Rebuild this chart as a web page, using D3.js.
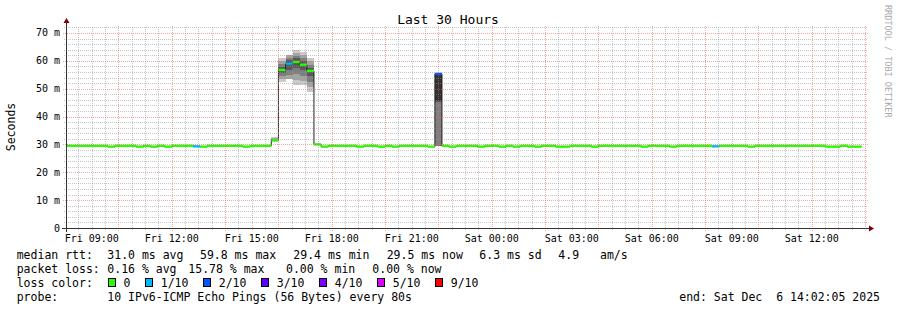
<!DOCTYPE html>
<html>
<head>
<meta charset="utf-8">
<script src="https://cdn.jsdelivr.net/npm/d3@7"></script>
<style>
  body { margin: 0; background: #fff; }
  svg { display: block; }
  text { font-family: 'DejaVu Sans Mono', monospace; }
</style>
</head>
<body>
<div id="chart"></div>
<script>
const width = 897
const height = 310
const plot = { left: 66, right: 866, top: 26, bottom: 228 }

// 30 hour window, data consolidated in 16 minute steps (12 x 80s)
const timeStart = new Date(Date.UTC(2025, 11, 5, 8, 2, 5))
const timeEnd = new Date(Date.UTC(2025, 11, 6, 14, 2, 5))
const stepStart = Date.UTC(2025, 11, 5, 8, 0, 0)
const stepMs = 960 * 1000

// median rtt per step (ms)
const median = [
  29.5, 29.5, 29.5, 29.5, 29.5, 29.5, 29.2, 29.5, 29.5, 29.5, 29.2, 29.5, 29.2, 29.5, 29.2, 29.5,
  29.5, 29.5, 29.3, 29.2, 29.5, 29.5, 29.5, 29.5, 29.5, 29.2, 29.5, 29.5, 29.5, 31.5, 56.7, 59.0,
  59.6, 58.6, 56.4, 30.0, 29.2, 29.5, 29.5, 29.5, 29.5, 29.2, 29.5, 29.5, 29.2, 29.5, 29.2, 29.5,
  29.5, 29.5, 29.5, 29.2, 55.3, 29.5, 29.2, 29.5, 29.5, 29.5, 29.2, 29.5, 29.5, 29.2, 29.5, 29.2,
  29.5, 29.5, 29.2, 29.5, 29.5, 29.2, 29.2, 29.5, 29.5, 29.5, 29.2, 29.5, 29.5, 29.5, 29.5, 29.5,
  29.5, 29.2, 29.5, 29.5, 29.5, 29.2, 29.5, 29.5, 29.5, 29.5, 29.5, 29.3, 29.5, 29.5, 29.5, 29.5,
  29.2, 29.5, 29.5, 29.5, 29.5, 29.5, 29.5, 29.5, 29.5, 29.5, 29.5, 29.2, 29.2, 29.5, 29.2, 29.2
]

// lost pings out of 10 per step
const loss = [
  0, 0, 0, 0, 0, 0, 0, 0, 0, 0, 0, 0, 0, 0, 0, 0,
  0, 0, 1, 0, 0, 0, 0, 0, 0, 0, 0, 0, 0, 0, 0, 1,
  0, 0, 0, 0, 0, 0, 0, 0, 0, 0, 0, 0, 0, 0, 0, 0,
  0, 0, 0, 0, 2, 0, 0, 0, 0, 0, 0, 0, 0, 0, 0, 0,
  0, 0, 0, 0, 0, 0, 0, 0, 0, 0, 0, 0, 0, 0, 0, 0,
  0, 0, 0, 0, 0, 0, 0, 0, 0, 0, 0, 1, 0, 0, 0, 0,
  0, 0, 0, 0, 0, 0, 0, 0, 0, 0, 0, 0, 0, 0, 0, 0
]

// sorted single pings (ms) for the steps where smoke is visible, null = lost
const smokeSteps = [29, 30, 31, 32, 33, 34, 52]
const smokePings = [
  [31.0, 31.1, 31.2, 31.3, 31.4, 31.6, 31.8, 32.0, 32.3, 32.8],
  [52.5, 53.6, 54.6, 55.6, 56.4, 57.0, 57.8, 58.8, 59.9, 61.0],
  [51.9, 53.4, 55.0, 56.8, 58.4, 59.6, 60.3, 61.1, 62.1, null],
  [51.3, 53.0, 55.2, 57.6, 59.2, 60.0, 60.9, 61.9, 62.9, 63.9],
  [51.3, 52.8, 54.6, 56.6, 58.2, 59.0, 59.9, 61.0, 62.2, 63.3],
  [48.9, 50.5, 52.4, 54.4, 56.0, 56.8, 57.6, 58.6, 59.8, 60.9],
  [29.3, 29.4, 29.5, 45.2, 45.5, 55.0, 55.4, 55.8, null, null]
]

const lossLabels = ['0', '1/10', '2/10', '3/10', '4/10', '5/10', '9/10']
const lossColors = ['#26ff00', '#00b8ff', '#0059ff', '#5e00ff', '#7e00ff', '#dd00ff', '#ff0000']

const yTicks = [0, 10, 20, 30, 40, 50, 60, 70]

const legendRtt = ['median rtt:', '31.0 ms avg', '59.8 ms max', '29.4 ms min', '29.5 ms now', '6.3 ms sd', '4.9', 'am/s']
const legendLoss = ['packet loss:', '0.16 % avg', '15.78 % max', '0.00 % min', '0.00 % now']
const probeText = '10 IPv6-ICMP Echo Pings (56 Bytes) every 80s'
const endText = 'end: Sat Dec  6 14:02:05 2025'

const svg = d3
  .select('#chart')
  .append('svg')
  .attr('width', width)
  .attr('height', height)

svg.append('rect').attr('width', width).attr('height', height).attr('fill', '#fff')

const xPositionScale = d3.scaleUtc().domain([timeStart, timeEnd]).range([plot.left, plot.right])
const yPositionScale = d3.scaleLinear().domain([0, 72.5]).range([plot.bottom, plot.top])

const stepX = i => xPositionScale(new Date(stepStart + i * stepMs))

svg
  .append('clipPath')
  .attr('id', 'plot-clip')
  .append('rect')
  .attr('x', plot.left)
  .attr('y', plot.top)
  .attr('width', plot.right - plot.left)
  .attr('height', plot.bottom - plot.top)

const graph = svg.append('g').attr('clip-path', 'url(#plot-clip)')

// smoke: pairs of pings from the outside in, darker towards the middle
smokeSteps.forEach((step, k) => {
  const p = smokePings[k]
  for (let ibot = 1; ibot <= 5; ibot++) {
    const lo = p[ibot - 1]
    const hi = p[10 - ibot]
    if (lo == null || hi == null) continue
    const c = Math.floor((190 / 5) * (5 - ibot)) + 50
    graph
      .append('rect')
      .attr('x', stepX(step))
      .attr('width', stepX(step + 1) - stepX(step))
      .attr('y', yPositionScale(hi))
      .attr('height', yPositionScale(lo) - yPositionScale(hi))
      .attr('fill', d3.rgb(c, c, c))
      .attr('shape-rendering', 'crispEdges')
  }
})

// grid
const gridG = svg.append('g').attr('shape-rendering', 'crispEdges')
const majorTimes = d3.utcHour.every(2).range(timeStart, timeEnd)
const minorTimes = d3.utcMinute
  .every(30)
  .range(timeStart, timeEnd)
  .filter(d => !(d.getUTCMinutes() === 0 && d.getUTCHours() % 2 === 0))
const minorValues = d3.range(0, 73, 2).filter(v => v % 10 !== 0)

const gridColor = 'rgba(150,150,150,0.55)'
const mgridColor = 'rgba(240,90,90,0.55)'

gridG
  .selectAll('.vminor')
  .data(minorTimes)
  .enter()
  .append('line')
  .attr('x1', d => Math.round(xPositionScale(d)) + 0.5)
  .attr('x2', d => Math.round(xPositionScale(d)) + 0.5)
  .attr('y1', plot.bottom + 2)
  .attr('y2', plot.top)
  .attr('stroke', gridColor)
  .attr('stroke-dasharray', '1,1')

gridG
  .selectAll('.hminor')
  .data(minorValues)
  .enter()
  .append('line')
  .attr('x1', plot.left - 2)
  .attr('x2', plot.right + 2)
  .attr('y1', d => Math.round(yPositionScale(d)) + 0.5)
  .attr('y2', d => Math.round(yPositionScale(d)) + 0.5)
  .attr('stroke', gridColor)
  .attr('stroke-dasharray', '1,1')

gridG
  .selectAll('.vmajor')
  .data(majorTimes)
  .enter()
  .append('line')
  .attr('x1', d => Math.round(xPositionScale(d)) + 0.5)
  .attr('x2', d => Math.round(xPositionScale(d)) + 0.5)
  .attr('y1', plot.bottom + 3)
  .attr('y2', plot.top)
  .attr('stroke', mgridColor)
  .attr('stroke-dasharray', '1,1')

gridG
  .selectAll('.hmajor')
  .data(yTicks.filter(d => d > 0))
  .enter()
  .append('line')
  .attr('x1', plot.left - 3)
  .attr('x2', plot.right + 2)
  .attr('y1', d => Math.round(yPositionScale(d)) + 0.5)
  .attr('y2', d => Math.round(yPositionScale(d)) + 0.5)
  .attr('stroke', mgridColor)
  .attr('stroke-dasharray', '1,1')

// median line
const medianPts = median.map((m, i) => [stepX(i), yPositionScale(m)])
medianPts.push([stepX(median.length), yPositionScale(median[median.length - 1])])

graph
  .append('path')
  .attr('d', d3.line().curve(d3.curveStepAfter)(medianPts))
  .attr('fill', 'none')
  .attr('stroke', '#202020')
  .attr('stroke-width', 1)

// loss coloured band around the median
const lossBucket = n => (n <= 4 ? n : n <= 8 ? 5 : 6)

graph
  .selectAll('.band')
  .data(median)
  .enter()
  .append('rect')
  .attr('x', (d, i) => stepX(i))
  .attr('width', (d, i) => stepX(i + 1) - stepX(i))
  .attr('y', d => yPositionScale(d) - 1.2)
  .attr('height', 2.4)
  .attr('fill', (d, i) => lossColors[lossBucket(loss[i])])

// axes
const axisColor = '#333'
svg
  .append('line')
  .attr('x1', plot.left - 4)
  .attr('x2', plot.right + 4)
  .attr('y1', plot.bottom + 0.5)
  .attr('y2', plot.bottom + 0.5)
  .attr('stroke', axisColor)
svg
  .append('line')
  .attr('x1', plot.left + 0.5)
  .attr('x2', plot.left + 0.5)
  .attr('y1', plot.bottom + 4)
  .attr('y2', plot.top - 4)
  .attr('stroke', axisColor)
svg
  .append('path')
  .attr('d', `M${plot.right + 3},${plot.bottom - 2.5}L${plot.right + 8},${plot.bottom + 0.5}L${plot.right + 3},${plot.bottom + 3.5}Z`)
  .attr('fill', '#7f0000')
svg
  .append('path')
  .attr('d', `M${plot.left - 2.5},${plot.top - 3}L${plot.left + 0.5},${plot.top - 8}L${plot.left + 3.5},${plot.top - 3}Z`)
  .attr('fill', '#7f0000')

// tick labels
svg
  .selectAll('.ylabel')
  .data(yTicks)
  .enter()
  .append('text')
  .attr('x', 60)
  .attr('y', d => yPositionScale(d) + 3.5)
  .attr('text-anchor', 'end')
  .attr('font-size', 10)
  .attr('fill', '#000')
  .text(d => (d === 0 ? '0' : d + ' m'))

const labelTimes = d3.utcHour.every(3).range(timeStart, timeEnd)
svg
  .selectAll('.xlabel')
  .data(labelTimes)
  .enter()
  .append('text')
  .attr('x', d => xPositionScale(d))
  .attr('y', 241.5)
  .attr('text-anchor', 'middle')
  .attr('font-size', 10)
  .attr('fill', '#000')
  .text(d3.utcFormat('%a %H:%M'))

// title and side texts
svg
  .append('text')
  .attr('x', 448)
  .attr('y', 24)
  .attr('text-anchor', 'middle')
  .attr('font-size', 13)
  .text('Last 30 Hours')

svg
  .append('text')
  .attr('transform', 'translate(15,127) rotate(-90)')
  .attr('text-anchor', 'middle')
  .attr('font-size', 11.5)
  .text('Seconds')

svg
  .append('text')
  .attr('transform', 'translate(884.5,5) rotate(90)')
  .attr('font-size', 8.5)
  .attr('fill', '#aaa')
  .text('RRDTOOL / TOBI OETIKER')

// legend
const legendFont = 11.5
const rttX = [16.7, 107.3, 200, 293.3, 386.7, 479.3, 558.3, 600]
const lossX = [16.7, 107.3, 188.3, 286, 372.3]

svg
  .selectAll('.leg-rtt')
  .data(legendRtt)
  .enter()
  .append('text')
  .attr('x', (d, i) => rttX[i])
  .attr('y', 258.5)
  .attr('font-size', legendFont)
  .attr('xml:space', 'preserve')
  .text(d => d)

svg
  .selectAll('.leg-loss')
  .data(legendLoss)
  .enter()
  .append('text')
  .attr('x', (d, i) => lossX[i])
  .attr('y', 272.5)
  .attr('font-size', legendFont)
  .text(d => d)

svg
  .append('text')
  .attr('x', 16.7)
  .attr('y', 286.5)
  .attr('font-size', legendFont)
  .text('loss color:')

let lx = 108.5
lossLabels.forEach((lab, i) => {
  svg
    .append('rect')
    .attr('x', lx)
    .attr('y', 278.5)
    .attr('width', 7)
    .attr('height', 8)
    .attr('fill', lossColors[i])
    .attr('stroke', '#000')
    .attr('shape-rendering', 'crispEdges')
  const t = svg
    .append('text')
    .attr('x', lx + 15)
    .attr('y', 286.5)
    .attr('font-size', legendFont)
    .text(lab)
  lx = lx + 15 + t.node().getComputedTextLength() + 15.3
})

svg
  .append('text')
  .attr('x', 16.7)
  .attr('y', 300.5)
  .attr('font-size', legendFont)
  .text('probe:')

svg
  .append('text')
  .attr('x', 107.3)
  .attr('y', 300.5)
  .attr('font-size', legendFont)
  .text(probeText)

svg
  .append('text')
  .attr('x', 880)
  .attr('y', 300.5)
  .attr('text-anchor', 'end')
  .attr('font-size', legendFont)
  .attr('xml:space', 'preserve')
  .style('white-space', 'pre')
  .text(endText)
</script>
</body>
</html>
